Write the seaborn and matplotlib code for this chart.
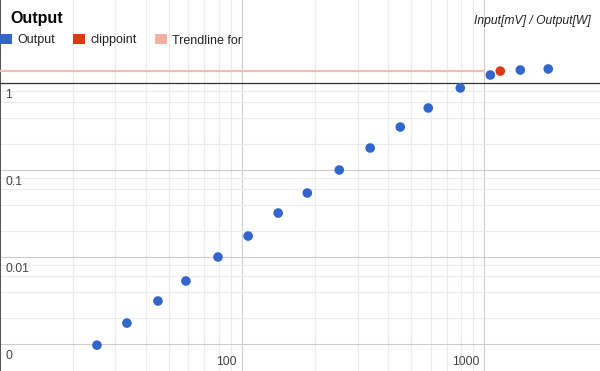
import numpy as np
import pandas as pd
import matplotlib
matplotlib.use('Agg')
import matplotlib.pyplot as plt
from matplotlib.patches import Rectangle
from matplotlib.ticker import FixedLocator
import seaborn as sns

# Data (log-log)
input_mv = [25.2, 33.5, 45, 58.7, 79.6, 106, 141, 186, 252, 338, 450, 587, 796, 1059, 1408, 1836]
output_w = [0.00097, 0.00174, 0.00312, 0.0053, 0.0100, 0.0174, 0.032, 0.0544, 0.100, 0.179,
            0.312, 0.516, 0.877, 1.236, 1.41, 1.45]
clip_x = [1164]
clip_y = [1.37]
trend_x = [10, 1000]
trend_y = [1.365, 1.365]

series_names = ['Output', 'clippoint', 'Trendline for']
series_colors = ['#3366cc', '#dc3912', '#f1b0a0']

y_ticks = [0.001, 0.01, 0.1, 1]
y_tick_labels = ['0', '0.01', '0.1', '1']
x_ticks = [100, 1000]
x_tick_labels = ['100', '1000']

df = pd.DataFrame({
    'input': input_mv + clip_x,
    'output': output_w + clip_y,
    'series': ['Output'] * len(input_mv) + ['clippoint'] * len(clip_x),
})

sns.set_style('white')
plt.rcParams['font.family'] = ['Liberation Sans', 'DejaVu Sans']

fig = plt.figure(figsize=(6, 3.71), dpi=100)
ax = fig.add_axes([0, 0, 1, 1])
ax.set_xscale('log')
ax.set_yscale('log')

# axis ranges chosen so the decades land where the original has them
ax.set_xlim(10 ** 1.00124, 10 ** 3.4775)
ax.set_ylim(10 ** (-3 - 27 / 87), 10 ** (83 / 87))

# gridlines: majors darker, minors pale, only inside the data range
ax.xaxis.set_major_locator(FixedLocator(x_ticks))
ax.xaxis.set_minor_locator(FixedLocator([m * d for d in (10, 100) for m in range(2, 10)]))
ax.yaxis.set_major_locator(FixedLocator(y_ticks[:-1]))
ax.yaxis.set_minor_locator(FixedLocator([m * d for d in (0.001, 0.01, 0.1) for m in (2, 4, 6, 8)]))
ax.grid(which='major', color='#cccccc', linewidth=0.8)
ax.grid(which='minor', color='#ebebeb', linewidth=0.8)
ax.tick_params(which='both', length=0, labelleft=False, labelbottom=False)
ax.set_axisbelow(True)

for side in ['top', 'right', 'bottom']:
    ax.spines[side].set_visible(False)
ax.spines['left'].set_color('#333333')
ax.spines['left'].set_linewidth(1.2)
ax.axhline(1, color='#333333', linewidth=0.9, zorder=2)

# trendline and points
ax.plot(trend_x, trend_y, color='#f4bcb2', linewidth=1.6, zorder=3)
sns.scatterplot(data=df, x='input', y='output', hue='series',
                palette=dict(zip(series_names[:2], series_colors[:2])),
                s=48, linewidth=0, legend=False, zorder=4, ax=ax)
ax.set_xlabel('')
ax.set_ylabel('')

# tick labels sit inside the plot, just past their gridlines
for val, lab in zip(y_ticks, y_tick_labels):
    ax.annotate(lab, xy=(0, val), xycoords=('axes fraction', 'data'),
                xytext=(5, -15), textcoords='offset pixels',
                ha='left', va='baseline', fontsize=8.7, color='#444444')
for val, lab in zip(x_ticks, x_tick_labels):
    ax.annotate(lab, xy=(val, 0), xycoords=('data', 'axes fraction'),
                xytext=(-5, 6), textcoords='offset pixels',
                ha='right', va='baseline', fontsize=8.7, color='#444444')

# title, legend and axis caption
W, H = 600, 371
fig.text(10 / W, 1 - 23.5 / H, 'Output', fontsize=11.5, fontweight='bold',
         va='baseline', color='#000000')
fig.text(591 / W, 1 - 24 / H, 'Input[mV] / Output[W]', fontsize=8.7, style='italic',
         ha='right', va='baseline', color='#222222')

legend_x = [0, 73, 155]
for lx, name, col in zip(legend_x, series_names, series_colors):
    fig.add_artist(Rectangle((lx / W, 1 - 44 / H), 11.5 / W, 10.5 / H,
                             transform=fig.transFigure, color=col, linewidth=0))
    fig.text((lx + 17.5) / W, 1 - 43.5 / H, name, fontsize=9, va='baseline',
             color='#222222')

fig.savefig('out.png', dpi=100)
